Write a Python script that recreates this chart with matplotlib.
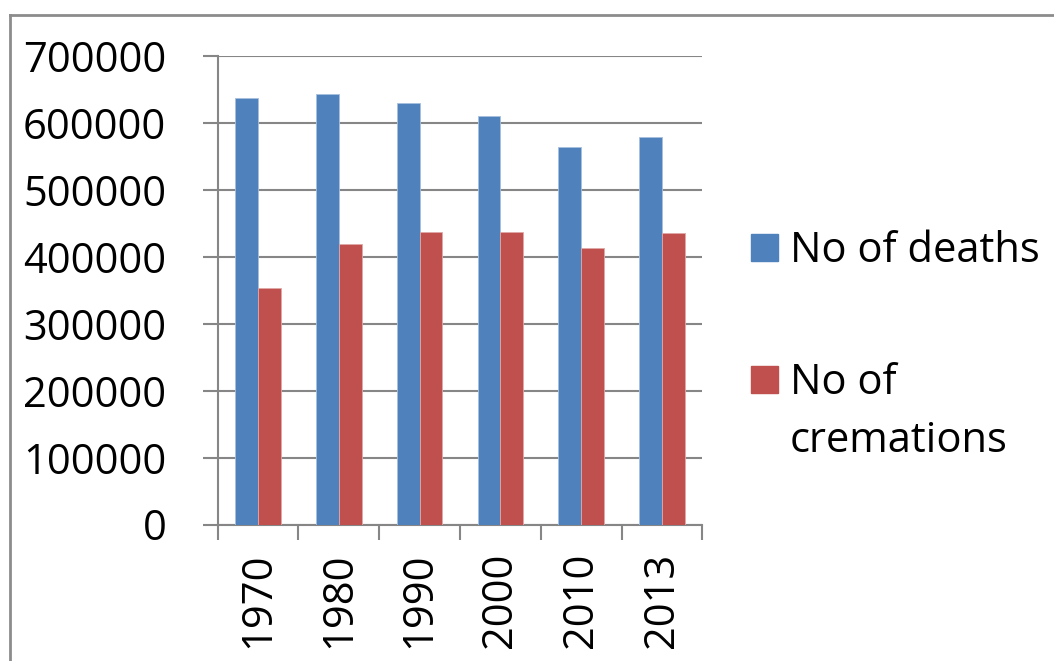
import numpy as np
import matplotlib.pyplot as plt
from matplotlib.lines import Line2D
from matplotlib.patches import Rectangle

years = ["1970", "1980", "1990", "2000", "2010", "2013"]
deaths = [638000, 644000, 629500, 611000, 565000, 580000]
cremations = [353000, 420000, 437000, 437000, 413000, 436000]
series_names = ["No of deaths", "No of\ncremations"]
colors = ["#4F81BD", "#C0504D"]

plt.rcParams['font.family'] = ['Open Sans', 'DejaVu Sans']
fs = 30

W, H = 1054, 661
fig = plt.figure(figsize=(W / 100, H / 100), dpi=100)
ax = fig.add_axes([217.7 / W, 1 - 524.5 / H, (702.3 - 217.7) / W, (524.5 - 56.3) / H])

x = np.arange(len(years))
bw = 0.282
ax.bar(x - bw / 2, deaths, bw, color=colors[0], edgecolor="#A7C0DE", linewidth=0.6, zorder=3)
ax.bar(x + bw / 2, cremations, bw, color=colors[1], edgecolor="#E0A8A6", linewidth=0.6, zorder=3)

ax.set_xlim(-0.5, len(years) - 0.5)
ax.set_ylim(0, 700000)
ax.set_yticks(np.arange(0, 700001, 100000))
ax.set_yticklabels([str(v) for v in range(0, 700001, 100000)], fontsize=fs)
ax.yaxis.grid(True, color="#868686", linewidth=1.5, zorder=0)
ax.set_axisbelow(True)

ax.set_xticks(x)
ax.set_xticklabels(years, rotation=90, fontsize=fs)
ax.set_xticks(np.arange(-0.5, len(years)), minor=True)
ax.tick_params(axis="x", which="major", length=0, pad=20)
ax.tick_params(axis="x", which="minor", length=11, width=1.5, color="#868686", direction="out")
ax.tick_params(axis="y", length=11, width=1.5, color="#868686", pad=26)

for s in ["top", "right"]:
    ax.spines[s].set_visible(False)
for s in ["left", "bottom"]:
    ax.spines[s].set_color("#868686")
    ax.spines[s].set_linewidth(1.5)

# legend drawn by hand so the square sits on the first text line
line_gap = 59
for i, (name, c) in enumerate(zip(series_names, colors)):
    top = [234, 366][i]
    fig.patches.append(Rectangle((751 / W, 1 - (top + 27) / H), 27 / W, 27 / H,
                                 transform=fig.transFigure, color=c))
    for j, part in enumerate(name.split("\n")):
        fig.text(790 / W, 1 - (top + 27.5 + j * line_gap) / H, part, fontsize=fs,
                 va="baseline", ha="left")

# outer chart frame
fig.add_artist(Line2D([9.5 / W, 9.5 / W], [0, 1 - 14.5 / H], transform=fig.transFigure,
                      color="#8C8C8C", linewidth=2))
fig.add_artist(Line2D([9.5 / W, 1], [1 - 14.5 / H, 1 - 14.5 / H], transform=fig.transFigure,
                      color="#8C8C8C", linewidth=2))

fig.savefig("out.png", dpi=100)
